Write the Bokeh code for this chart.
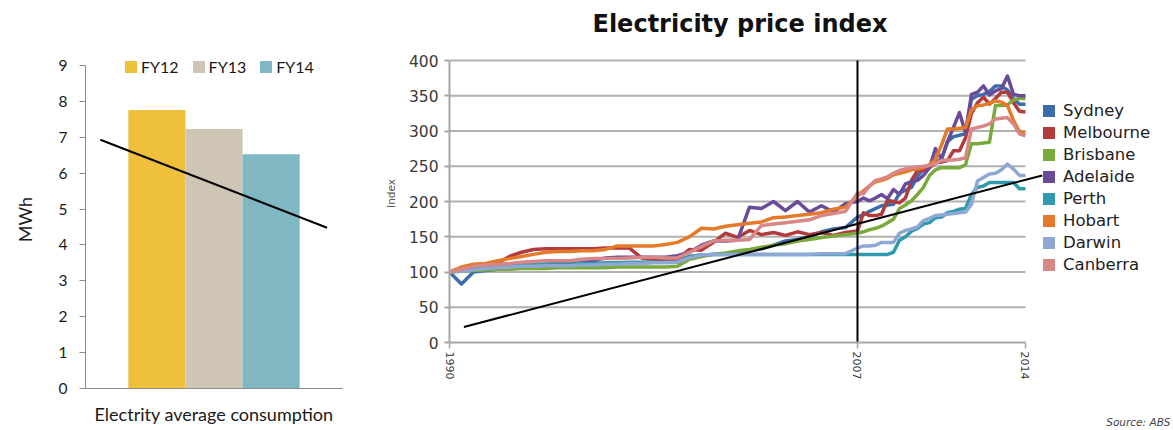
from bokeh.plotting import figure
from bokeh.models import Range1d, FixedTicker, Legend, LegendItem, ColumnDataSource, Title
from bokeh.layouts import row, column
from bokeh.embed import file_html
from bokeh.resources import INLINE

LEFT_FONT = "Lato"
RIGHT_FONT = "DejaVu Sans"

# ---------------- left chart data ----------------
fy_labels = ["FY12", "FY13", "FY14"]
consumption_mwh = [7.76, 7.23, 6.53]
fy_colors = ["#EEC03C", "#CFC5B4", "#7FB8C2"]
bar_positions = [0, 1, 2]
consumption_trend_x = [-0.99, 2.98]
consumption_trend_y = [6.93, 4.48]
mwh_ticks = [0, 1, 2, 3, 4, 5, 6, 7, 8, 9]

# ---------------- right chart data ----------------
# half-yearly 1990.0 .. 2006.5, then quarterly 2007.0 .. 2014.0
years = [1990 + 0.5 * i for i in range(34)] + [2007 + 0.25 * i for i in range(29)]

sydney = [100, 83, 100, 102, 104, 106, 107, 108, 108, 109, 109, 110, 110, 112, 112, 113, 113, 114, 115, 116,
          122, 124, 125, 126, 128, 130, 133, 138, 144, 146, 150, 157, 161, 163,
          178, 181, 186, 190, 194, 195, 196, 212, 216, 220, 236, 246, 252, 256, 260, 285, 292, 294, 296,
          345, 350, 352, 356, 364, 364, 358, 346, 338, 338]
melbourne = [100, 104, 107, 110, 113, 122, 128, 132, 133, 133, 133, 133, 133, 134, 134, 134, 120, 118, 118, 118,
             132, 131, 142, 155, 149, 159, 153, 156, 152, 157, 153, 156, 152, 156,
             158, 184, 180, 180, 182, 202, 200, 198, 205, 230, 244, 244, 248, 255, 256, 258, 272, 272, 290,
             325, 340, 348, 338, 346, 355, 355, 340, 328, 327]
brisbane = [100, 101, 102, 103, 104, 104, 105, 105, 105, 106, 106, 106, 106, 106, 107, 107, 107, 107, 107, 108,
            118, 122, 125, 127, 130, 132, 135, 138, 140, 144, 146, 149, 151, 153,
            155, 157, 160, 162, 165, 170, 175, 190, 195, 201, 210, 220, 237, 245, 248, 248, 248, 248, 252,
            282, 282, 283, 284, 336, 336, 337, 344, 346, 346]
adelaide = [100, 102, 104, 106, 108, 109, 110, 110, 111, 112, 112, 113, 116, 120, 121, 121, 121, 121, 121, 123,
            128, 138, 144, 144, 145, 192, 190, 200, 187, 200, 185, 194, 185, 197,
            200, 205, 201, 205, 210, 204, 217, 210, 225, 228, 230, 237, 248, 275, 260, 285, 305, 326, 298,
            352, 355, 364, 351, 357, 360, 378, 352, 350, 350]
perth = [100, 103, 104, 106, 108, 109, 110, 110, 111, 111, 111, 112, 112, 113, 113, 114, 114, 114, 114, 114,
         122, 124, 125, 125, 125, 125, 125, 125, 125, 125, 125, 125, 125, 125,
         125, 125, 125, 125, 125, 125, 128, 145, 150, 158, 162, 168, 170, 177, 178, 184, 186, 189, 190,
         210, 220, 222, 227, 227, 227, 227, 227, 218, 218]
hobart = [100, 107, 111, 112, 116, 119, 122, 125, 128, 129, 129, 130, 130, 132, 137, 137, 137, 137, 139, 142,
          150, 162, 161, 165, 167, 169, 171, 177, 178, 180, 182, 184, 189, 192,
          208, 215, 222, 228, 230, 233, 238, 240, 242, 245, 246, 248, 252, 260, 280, 303, 303, 304, 305,
          330, 336, 337, 339, 343, 341, 336, 315, 299, 298]
darwin = [100, 101, 103, 105, 106, 107, 108, 108, 109, 109, 109, 110, 110, 111, 111, 112, 112, 113, 113, 114,
          120, 124, 125, 125, 125, 125, 125, 125, 125, 125, 125, 126, 126, 126,
          134, 137, 137, 138, 142, 142, 142, 155, 159, 161, 164, 173, 176, 180, 181, 182, 183, 184, 185,
          196, 229, 234, 239, 240, 245, 253, 246, 237, 237]
canberra = [100, 104, 108, 110, 111, 112, 114, 115, 116, 116, 116, 118, 119, 119, 119, 120, 121, 121, 120, 120,
            128, 136, 144, 145, 145, 146, 166, 168, 170, 172, 174, 180, 183, 186,
            212, 211, 222, 230, 232, 235, 240, 244, 246, 248, 249, 250, 251, 254, 258, 259, 259, 260, 262,
            303, 305, 307, 310, 317, 318, 319, 310, 296, 293]

city_names = ["Sydney", "Melbourne", "Brisbane", "Adelaide", "Perth", "Hobart", "Darwin", "Canberra"]
city_values = [sydney, melbourne, brisbane, adelaide, perth, hobart, darwin, canberra]
city_colors = ["#3B6DAE", "#B43B3B", "#7AAA3C", "#6A4B99", "#2F99AE", "#E47A2A", "#8EA8D4", "#D88686"]

index_ticks = [0, 50, 100, 150, 200, 250, 300, 350, 400]
year_ticks = [1990, 2007, 2014]
marker_year = 2007
trend_years = [1990.6, 2014.7]
trend_values = [22, 237]
source_note = "Source: ABS"

# ================= left figure =================
left = figure(width=370, height=430, x_range=Range1d(-1.25, 3.25), y_range=Range1d(0, 9.418),
              output_backend="svg", toolbar_location=None, title=None, frame_align=False,
              min_border_left=85, min_border_right=28, min_border_top=50, min_border_bottom=42)
left.outline_line_color = None
left.grid.visible = False

src = ColumnDataSource(dict(x=bar_positions, top=consumption_mwh, fy=fy_labels, color=fy_colors))
left.vbar(x="x", top="top", width=1.0, fill_color="color", line_color=None, source=src, legend_field="fy")
left.line(consumption_trend_x, consumption_trend_y, line_color="black", line_width=2)

ya = left.yaxis[0]
ya.ticker = FixedTicker(ticks=mwh_ticks)
ya.bounds = (mwh_ticks[0], mwh_ticks[-1])
ya.axis_line_color = "#8c8c8c"
ya.major_tick_line_color = "#8c8c8c"
ya.major_tick_out = 6
ya.major_tick_in = 0
ya.minor_tick_line_color = None
ya.major_label_text_font = LEFT_FONT
ya.major_label_text_font_size = "15.5px"
ya.major_label_text_color = "#1a1a1a"
ya.major_label_standoff = 12
ya.axis_label = "MWh"
ya.axis_label_text_font = LEFT_FONT
ya.axis_label_text_font_size = "18px"
ya.axis_label_text_font_style = "normal"
ya.axis_label_text_color = "#1a1a1a"
ya.axis_label_standoff = 20

xa = left.xaxis[0]
xa.ticker = FixedTicker(ticks=[])
xa.axis_line_color = "#8c8c8c"
xa.major_tick_out = 0
xa.major_tick_in = 0
xa.minor_tick_line_color = None
xa.major_label_standoff = 0
xa.axis_label = "Electrity average consumption"
xa.axis_label_text_font = LEFT_FONT
xa.axis_label_text_font_size = "18px"
xa.axis_label_text_font_style = "normal"
xa.axis_label_text_color = "#1a1a1a"
xa.axis_label_standoff = 14

lg = left.legend[0]
lg.orientation = "horizontal"
lg.location = (38, 312)
lg.glyph_width = 15
lg.glyph_height = 15
lg.label_standoff = 3
lg.spacing = 12
lg.padding = 0
lg.margin = 0
lg.border_line_color = None
lg.background_fill_alpha = 0
lg.label_text_font = LEFT_FONT
lg.label_text_font_size = "16px"
lg.label_text_color = "#1a1a1a"

# ================= right figure =================
right = figure(width=803, height=414, x_range=Range1d(1990, 2019.96), y_range=Range1d(0, 422.7),
               output_backend="svg", toolbar_location=None, frame_align=False,
               min_border_left=79, min_border_right=5, min_border_top=44, min_border_bottom=72)
right.outline_line_color = None
right.grid.visible = False

right.title.text = "Electricity price index"
right.title.align = "left"
right.title.offset = 143
right.title.standoff = 11
right.title.vertical_align = "middle"
right.title.text_font = RIGHT_FONT
right.title.text_font_size = "24px"
right.title.text_font_style = "bold"
right.title.text_color = "#111111"

# horizontal gridlines limited to the data span
grid_y = index_ticks[1:]
right.segment(x0=[year_ticks[0]] * len(grid_y), y0=grid_y, x1=[year_ticks[-1]] * len(grid_y), y1=grid_y,
              line_color="#b0b0b0", line_width=2)

items = []
for name, vals, color in zip(city_names, city_values, city_colors):
    right.line(years, vals, line_color=color, line_width=3.5, line_join="round")
    # zero-size bar at the series' first point: invisible on the chart, gives a square legend swatch
    swatch = right.vbar(x=[years[0]], bottom=[vals[0]], top=[vals[0]], width=0,
                        fill_color=color, line_color=None)
    items.append(LegendItem(label=name, renderers=[swatch]))

right.segment(x0=[marker_year], y0=[index_ticks[0]], x1=[marker_year], y1=[index_ticks[-1]],
              line_color="black", line_width=2)
right.line(trend_years, trend_values, line_color="black", line_width=2)

ry = right.yaxis[0]
ry.ticker = FixedTicker(ticks=index_ticks)
ry.bounds = (index_ticks[0], index_ticks[-1])
ry.axis_line_color = "#a6a6a6"
ry.axis_line_width = 2
ry.major_tick_line_color = "#a6a6a6"
ry.major_tick_line_width = 2
ry.major_tick_out = 5
ry.major_tick_in = 0
ry.minor_tick_line_color = None
ry.major_label_text_font = RIGHT_FONT
ry.major_label_text_font_size = "15.5px"
ry.major_label_text_color = "#3a3a3a"
ry.major_label_standoff = 6
ry.axis_label = "Index"
ry.axis_label_text_font = RIGHT_FONT
ry.axis_label_text_font_size = "10.5px"
ry.axis_label_text_font_style = "normal"
ry.axis_label_text_color = "#555555"
ry.axis_label_standoff = 9

rx = right.xaxis[0]
rx.ticker = FixedTicker(ticks=year_ticks)
rx.bounds = (year_ticks[0], year_ticks[-1])
rx.axis_line_color = "#a6a6a6"
rx.axis_line_width = 2
rx.major_tick_line_color = "#a6a6a6"
rx.major_tick_line_width = 1.5
rx.major_tick_out = 6
rx.major_tick_in = 0
rx.minor_tick_line_color = None
rx.major_label_orientation = "vertical"
rx.major_label_text_font = RIGHT_FONT
rx.major_label_text_font_size = "11px"
rx.major_label_text_color = "#3a3a3a"
rx.major_label_standoff = 3

legend = Legend(items=items, location=(592, 67))
legend.glyph_width = 15
legend.glyph_height = 15
legend.label_height = 22
legend.label_standoff = 7
legend.spacing = 0
legend.padding = 0
legend.margin = 0
legend.border_line_color = None
legend.background_fill_alpha = 0
legend.label_text_font = RIGHT_FONT
legend.label_text_font_size = "16.5px"
legend.label_text_color = "#222222"
right.add_layout(legend)

# ================= source note strip under the right chart =================
note = figure(width=803, height=16, output_backend="svg", toolbar_location=None, title=None,
              x_axis_location=None, y_axis_location=None, frame_align=False,
              min_border_left=79, min_border_right=3, min_border_top=0, min_border_bottom=0)
note.outline_line_color = None
note.grid.visible = False
note.add_layout(Title(text=source_note, align="right", offset=0, standoff=0, vertical_align="middle",
                      text_font=RIGHT_FONT, text_font_size="10.5px", text_font_style="italic",
                      text_color="#444444"), "above")

layout = row(left, column(right, note))
open("out.html", "w").write(file_html(layout, INLINE))
